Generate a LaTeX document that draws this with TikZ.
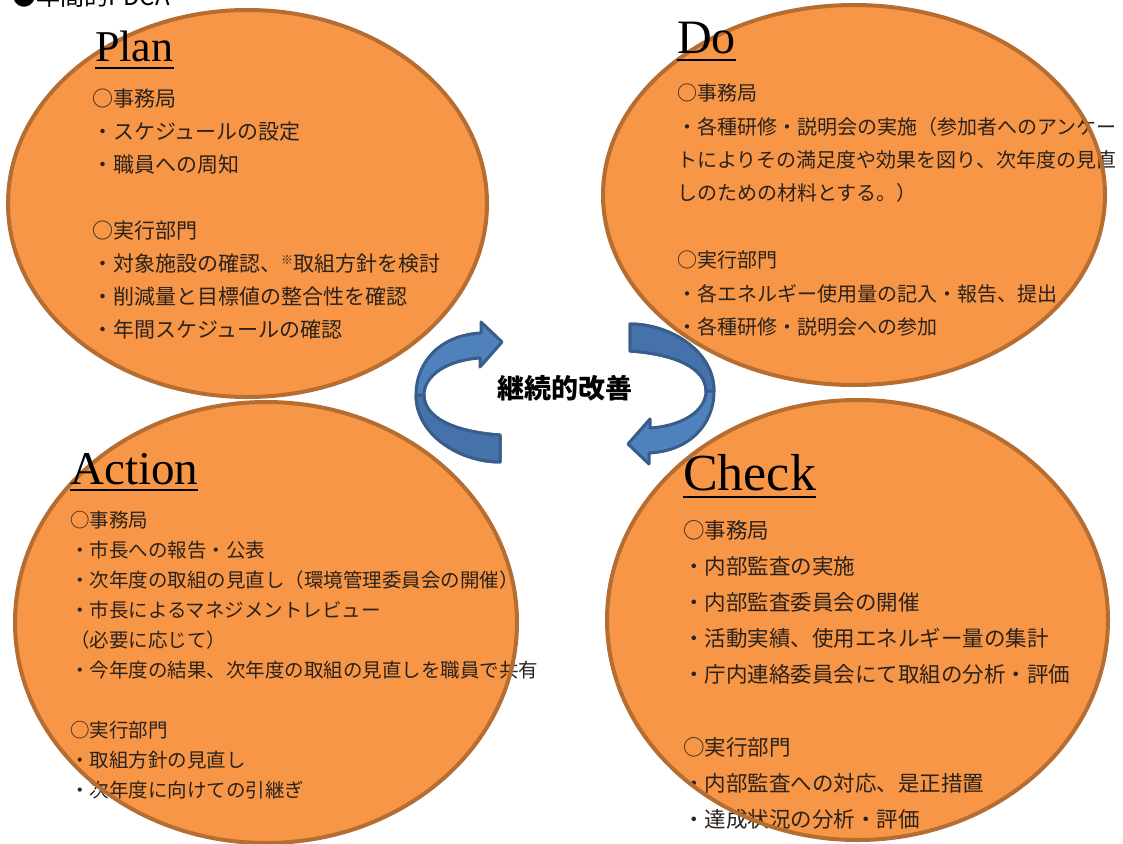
\documentclass[tikz,border=0pt]{standalone}
\usepackage{fontspec}
\newfontfamily\jp{Noto Sans CJK JP}
\newfontfamily\ttl{Liberation Serif}
\definecolor{orfill}{HTML}{F79646}
\definecolor{orline}{HTML}{B66D31}
\definecolor{arfill}{HTML}{4F81BD}
\definecolor{ardark}{HTML}{4672AC}
\definecolor{arline}{HTML}{385D8A}
\definecolor{txt}{HTML}{2A221C}
\newcommand\komemark{\raisebox{7pt}{\fontsize{12}{12}\selectfont ※}}
\tikzset{
  phaseline/.style={draw=orline, line width=4pt},
  titletext/.style={anchor=base west, inner sep=0pt, text=black},
  bodytext/.style={anchor=base west, inner sep=0pt, text=txt},
  arrowfront/.style={fill=arfill, draw=arline, line width=3pt, line join=round},
  arrowback/.style={fill=ardark, draw=arline, line width=3pt, line join=round},
  uline/.style={line width=2.5pt, black},
}
\begin{document}
\begin{tikzpicture}[x=1pt,y=-1pt]
\useasboundingbox (0,0) rectangle (1123,843);
\fill[white] (0,0) rectangle (1123,843);

% header, cut off at the top as in the reference
\node[anchor=base west, inner sep=0pt, font=\jp\fontsize{24}{24}\selectfont] (hdr) at (12,6) {●年間的PDCA};

% ellipse fills
\fill[orfill] (247.5,203.5) ellipse [x radius=239.5pt, y radius=193.5pt];
\fill[orfill] (854,195) ellipse [x radius=251pt, y radius=190pt];
\fill[orfill] (266,622.5) ellipse [x radius=251pt, y radius=220.5pt];
\fill[orfill] (857.5,620) ellipse [x radius=250.5pt, y radius=220pt];

% Plan text
\foreach \t [count=\i from 0] in {○事務局,・スケジュールの設定,・職員への周知,{},○実行部門,・対象施設の確認、\komemark 取組方針を検討,・削減量と目標値の整合性を確認,・年間スケジュールの確認}
  \node[bodytext, font=\jp\fontsize{21}{21}\selectfont] (plan\i) at (92,106+33*\i) {\t};

% Do text
\foreach \t [count=\i from 0] in {○事務局,・各種研修・説明会の実施（参加者へのアンケー,トによりその満足度や効果を図り、次年度の見直,しのための材料とする。）,{},○実行部門,・各エネルギー使用量の記入・報告、提出,・各種研修・説明会への参加}
  \node[bodytext, font=\jp\fontsize{20}{20}\selectfont] (do\i) at (677,100.6+33.4*\i) {\t};

% Action text
\foreach \t [count=\i from 0] in {○事務局,・市長への報告・公表,・次年度の取組の見直し（環境管理委員会の開催）,・市長によるマネジメントレビュー,（必要に応じて）,・今年度の結果、次年度の取組の見直しを職員で共有,{},○実行部門,・取組方針の見直し,・次年度に向けての引継ぎ}
  \node[bodytext, font=\jp\fontsize{19.5}{19.5}\selectfont] (action\i) at (70,527.5+30*\i) {\t};

% Check text
\foreach \t [count=\i from 0] in {○事務局,・内部監査の実施,・内部監査委員会の開催,・活動実績、使用エネルギー量の集計,・庁内連絡委員会にて取組の分析・評価,{},○実行部門,・内部監査への対応、是正措置,・達成状況の分析・評価}
  \node[bodytext, font=\jp\fontsize{21.5}{21.5}\selectfont] (check\i) at (683,538+36.2*\i) {\t};

% ellipse outlines
\draw[phaseline] (247.5,203.5) ellipse [x radius=239.5pt, y radius=193.5pt];
\draw[phaseline] (854,195) ellipse [x radius=251pt, y radius=190pt];
\draw[phaseline] (266,622.5) ellipse [x radius=251pt, y radius=220.5pt];
\draw[phaseline] (857.5,620) ellipse [x radius=250.5pt, y radius=220pt];

% titles (in front of the outlines)
\node[titletext, font=\ttl\fontsize{44}{44}\selectfont] (plan) at (95,62) {Plan};
\draw[uline] ([yshift=-6pt]plan.base west) -- ([yshift=-6pt]plan.base east);
\node[titletext, font=\ttl\fontsize{48}{48}\selectfont] (do) at (677,53) {Do};
\draw[uline] ([yshift=-7pt]do.base west) -- ([yshift=-7pt]do.base east);
\node[titletext, font=\ttl\fontsize{47}{47}\selectfont] (action) at (70,484) {Action};
\draw[uline] ([yshift=-6pt]action.base west) -- ([yshift=-6pt]action.base east);
\node[titletext, font=\ttl\fontsize{52}{52}\selectfont] (check) at (683,490) {Check};
\draw[uline] ([yshift=-7pt]check.base west) -- ([yshift=-7pt]check.base east);

% curved arrows
\foreach \r in {0,180} {
\begin{scope}[rotate around={\r:(565,393)}]
  \path[arrowfront] (500,435) .. controls (455,432) and (424,418) .. (424,395)
     .. controls (424,375) and (448,360) .. (480,358)
     -- (480,367) -- (502,342) -- (481,322) -- (481,333)
     .. controls (440,335) and (416,362) .. (416,395)
     .. controls (416,435) and (460,462) .. (500,462) -- cycle;
  \path[arrowback] (416,395) .. controls (416,435) and (460,462) .. (500,462)
     -- (500,435) .. controls (455,432) and (424,418) .. (424,395) -- cycle;
\end{scope}
}

\node[font=\jp\bfseries\fontsize{27}{27}\selectfont, text=black] (kaizen) at (565,388) {継続的改善};
\end{tikzpicture}
\end{document}
